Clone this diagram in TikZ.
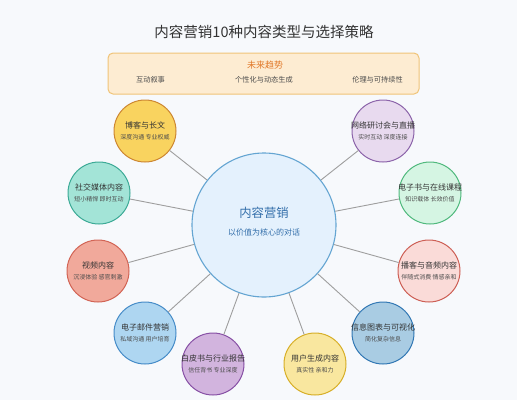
\documentclass[tikz,border=0pt]{standalone}
\usepackage{fontspec}
\setmainfont{Noto Sans CJK SC}
\begin{document}
\begin{tikzpicture}[x=1pt,y=-1pt,
  bubble/.style={circle,draw,line width=1pt,minimum size=62pt,inner sep=0pt},
  ttl/.style={font=\fontsize{8}{9}\selectfont,text=black!80,inner sep=0pt},
  sub/.style={font=\fontsize{6}{7}\selectfont,text=black!70,inner sep=0pt},
  link/.style={draw=black!38,line width=0.9pt},
  trend/.style={font=\fontsize{7.2}{8}\selectfont,text=black!70,inner sep=0pt}]
\definecolor{bg}{HTML}{F7F9FC}
\fill[bg] (0,0) rectangle (517,400);
\useasboundingbox (0,0) rectangle (517,400);
\node[font=\fontsize{14.5}{16}\selectfont,text=black!80] (title) at (264,32) {内容营销10种内容类型与选择策略};
% trends box
\node[draw={rgb,255:red,240;green,196;blue,120},fill={rgb,255:red,253;green,236;blue,210},line width=1pt,rounded corners=5pt,minimum width=311pt,minimum height=41pt,inner sep=0pt] (tbox) at (263.5,73.5) {};
\node[font=\fontsize{9}{10}\selectfont,text={rgb,255:red,225;green,120;blue,40},inner sep=0pt] (ttitle) at (265,65) {未来趋势};
\node[trend] (t1) at (150.5,80) {互动叙事};
\node[trend] (t2) at (264,80) {个性化与动态生成};
\node[trend] (t3) at (377.5,80) {伦理与可持续性};
% center
\node[circle,draw={rgb,255:red,100;green,165;blue,210},fill={rgb,255:red,228;green,241;blue,253},line width=1.1pt,minimum size=144pt,inner sep=0pt] (c) at (264,225) {};
\node[font=\fontsize{12.3}{14}\selectfont,text={rgb,255:red,50;green,110;blue,170},inner sep=0pt] (ct) at (264,213) {内容营销};
\node[font=\fontsize{8}{9}\selectfont,text={rgb,255:red,50;green,110;blue,170},inner sep=0pt] (cs) at (264,232) {以价值为核心的对话};
% outer bubbles
\newcommand{\bub}[7]{%
  \node[bubble,draw=#5,fill=#4] (#1) at (#2,#3) {};
  \node[ttl] (#1t) at (#2,#3-6) {#6};
  \node[sub] (#1s) at (#2,#3+6) {#7};
  \draw[link] (c) -- (#1);
}
\bub{blog}{145}{131}{{rgb,255:red,249;green,211;blue,95}}{{rgb,255:red,205;green,135;blue,50}}{博客与长文}{深度沟通 专业权威}
\bub{soc}{99}{193}{{rgb,255:red,163;green,228;blue,215}}{{rgb,255:red,60;green,170;blue,150}}{社交媒体内容}{短小精悍 即时互动}
\bub{vid}{98}{271}{{rgb,255:red,241;green,169;blue,155}}{{rgb,255:red,210;green,100;blue,85}}{视频内容}{沉浸体验 感官刺激}
\bub{mail}{145}{333}{{rgb,255:red,174;green,214;blue,241}}{{rgb,255:red,70;green,140;blue,200}}{电子邮件营销}{私域沟通 用户培育}
\bub{wp}{213}{364}{{rgb,255:red,210;green,180;blue,222}}{{rgb,255:red,135;green,80;blue,165}}{白皮书与行业报告}{信任背书 专业深度}
\bub{ugc}{315}{364}{{rgb,255:red,249;green,231;blue,159}}{{rgb,255:red,215;green,175;blue,40}}{用户生成内容}{真实性 亲和力}
\bub{info}{383}{333}{{rgb,255:red,169;green,204;blue,227}}{{rgb,255:red,50;green,120;blue,180}}{信息图表与可视化}{简化复杂信息}
\bub{pod}{429}{271}{{rgb,255:red,250;green,219;blue,216}}{{rgb,255:red,205;green,95;blue,85}}{播客与音频内容}{伴随式消费 情感亲和}
\bub{ebook}{430}{193}{{rgb,255:red,213;green,245;blue,227}}{{rgb,255:red,80;green,185;blue,125}}{电子书与在线课程}{知识载体 长效价值}
\bub{web}{383}{131}{{rgb,255:red,232;green,218;blue,239}}{{rgb,255:red,140;green,100;blue,170}}{网络研讨会与直播}{实时互动 深度连接}
\end{tikzpicture}
\end{document}
